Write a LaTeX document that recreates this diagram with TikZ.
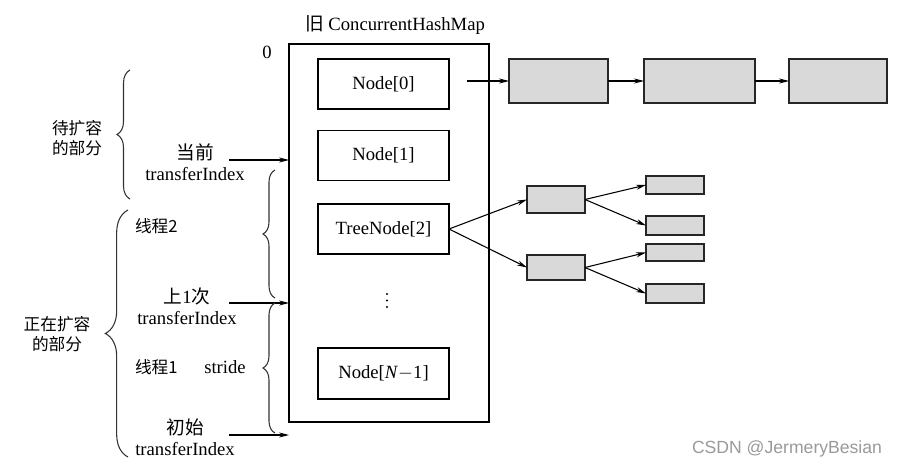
\documentclass[tikz,border=0pt]{standalone}
\usepackage{fontspec}
\setmainfont{Liberation Serif}
\newfontfamily\cjk{Noto Sans CJK SC}
\newfontfamily\wmfont{Liberation Sans}
\usetikzlibrary{arrows.meta,decorations.pathreplacing}
\definecolor{boxgray}{HTML}{D9D9D9}
\definecolor{wmgray}{HTML}{9A9A9A}
\begin{document}
\begin{tikzpicture}[x=0.75pt,y=-0.75pt,
  every node/.style={inner sep=0pt, outer sep=0pt},
  txt/.style={font=\fontsize{14}{16}\selectfont, align=center},
  cjktxt/.style={font=\fontsize{12.5}{15}\selectfont\cjk, align=center},
  slot/.style={draw, line width=1.4pt, minimum width=98.25pt, minimum height=37.5pt, font=\fontsize{14}{16}\selectfont},
  gbox/.style={draw=black!85, fill=boxgray, line width=1.4pt},
  arr/.style={-{Stealth[length=7.5pt,width=3.8pt]}, line width=0.8pt},
  bracedeco/.style={decorate, line width=0.8pt, draw=black!80},
  dotmark/.style={fill=black, circle, minimum size=1.6pt}
]
\useasboundingbox[fill=white] (0,0) rectangle (898,468);

% outer map box
\node[draw, line width=1.4pt, minimum width=150pt, minimum height=283.5pt] (map) at (389,233) {};
\node[txt] (title) at (395,25) {{\cjk 旧} ConcurrentHashMap};
\node[txt] (zero) at (267,52) {0};

% slots
\node[slot] (n0) at (383.5,84) {Node[0]};
\node[slot] (n1) at (383.5,155.5) {Node[1]};
\node[slot] (n2) at (383.5,229) {TreeNode[2]};
\node[dotmark] (d1) at (387,294) {};
\node[dotmark] (d2) at (387,300.5) {};
\node[dotmark] (d3) at (387,307) {};
\node[slot, minimum height=38.25pt] (nn) at (383.5,373.5) {Node[\textit{N}$-$1]};

% linked list
\node[gbox, minimum width=74.25pt, minimum height=33pt] (b1) at (558.5,81) {};
\node[gbox, minimum width=83.25pt, minimum height=33pt] (b2) at (699.5,81) {};
\node[gbox, minimum width=73.5pt, minimum height=33pt] (b3) at (838,81) {};
\coordinate (n0out) at (467,81);
\draw[arr] (n0out) -- (b1.west);
\draw[arr] (b1.east) -- (b2.west);
\draw[arr] (b2.east) -- (b3.west);

% tree
\node[gbox, minimum width=43.5pt, minimum height=20.25pt] (t1) at (556,199.5) {};
\node[gbox, minimum width=43.5pt, minimum height=19pt] (t2) at (556,267.5) {};
\node[gbox, minimum width=43.5pt, minimum height=13.5pt] (l1) at (675,185) {};
\node[gbox, minimum width=43.5pt, minimum height=14pt] (l2) at (675,225.5) {};
\node[gbox, minimum width=43.5pt, minimum height=13pt] (l3) at (675,252.5) {};
\node[gbox, minimum width=43.5pt, minimum height=14pt] (l4) at (675,293.5) {};
\draw[arr] (n2.east) -- (t1.west);
\draw[arr] (n2.east) -- (t2.west);
\draw[arr] (t1.east) -- (l1.west);
\draw[arr] (t1.east) -- (l2.west);
\draw[arr] (t2.east) -- (l3.west);
\draw[arr] (t2.east) -- (l4.west);

% left labels
\node[cjktxt] (pending) at (77,138) {待扩容\\的部分};
\node[cjktxt] (active) at (57,334.5) {正在扩容\\的部分};
\node[txt] (cur) at (195,162) {{\cjk 当前}\\transferIndex};
\node[txt] (last) at (187,306) {{\cjk 上}1{\cjk 次}\\transferIndex};
\node[txt] (init) at (185,437.5) {{\cjk 初始}\\transferIndex};
\node[cjktxt, anchor=west] (th2) at (135,226) {线程2};
\node[cjktxt, anchor=west] (th1) at (135,367) {线程1};
\node[txt] (stride) at (225,367) {stride};

% arrows into the map
\coordinate (curout) at (229,160);
\coordinate (lastout) at (229,303);
\coordinate (initout) at (229,435);
\draw[arr] (curout) -- (curout -| map.west);
\draw[arr] (lastout) -- (lastout -| map.west);
\draw[arr] (initout) -- (initout -| map.west);

% braces
\draw[bracedeco, decoration={brace, amplitude=9.75pt}] (130,199) -- (130,70);
\draw[bracedeco, decoration={brace, amplitude=17pt}] (128,457) -- (128,210);
\draw[bracedeco, decoration={brace, amplitude=9pt}] (275,298) -- (275,170);
\draw[bracedeco, decoration={brace, amplitude=9pt}] (275,433) -- (275,303);

% watermark
\node[font=\fontsize{13.2}{15}\selectfont\wmfont, text=wmgray] (wm) at (787,449) {CSDN @JermeryBesian};
\end{tikzpicture}
\end{document}
